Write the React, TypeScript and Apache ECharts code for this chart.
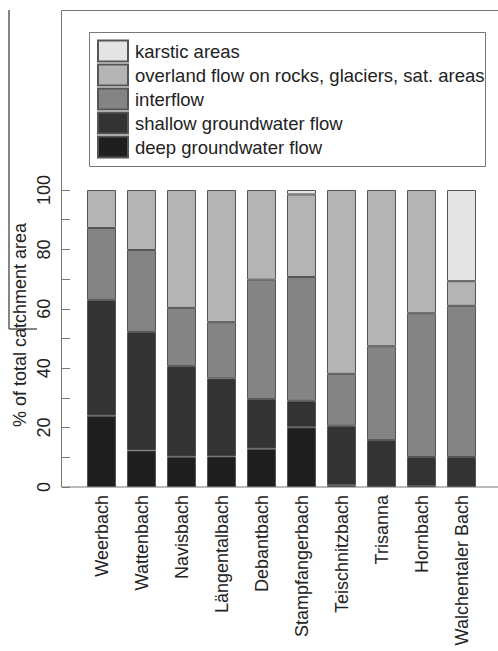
import React, { useEffect, useRef } from "react";
import * as echarts from "echarts";

const categories = [
  "Weerbach",
  "Wattenbach",
  "Navisbach",
  "Längentalbach",
  "Debantbach",
  "Stampfangerbach",
  "Teischnitzbach",
  "Trisanna",
  "Hornbach",
  "Walchentaler Bach",
];

const deepGroundwater = [24, 12.3, 10.2, 10.3, 12.9, 20.1, 0.6, null, 0.3, null];
const shallowGroundwater = [39, 39.9, 30.5, 26.3, 16.7, 8.9, 20, 15.8, 9.8, 10.1];
const interflow = [24.2, 27.6, 19.6, 18.9, 40.2, 41.7, 17.5, 31.6, 48.4, 50.9];
const overlandFlow = [12.8, 20.2, 39.7, 44.5, 30.2, 27.8, 61.9, 52.6, 41.5, 8.3];
const karsticAreas = [null, null, null, null, null, 1.5, null, null, null, 30.7];

const seriesNames = [
  "deep groundwater flow",
  "shallow groundwater flow",
  "interflow",
  "overland flow on rocks, glaciers, sat. areas",
  "karstic areas",
];
const legendOrder = [
  "karstic areas",
  "overland flow on rocks, glaciers, sat. areas",
  "interflow",
  "shallow groundwater flow",
  "deep groundwater flow",
];
const seriesColors = ["#1f1f1f", "#333333", "#848484", "#b4b4b4", "#e4e4e4"];

const FONT = "Liberation Sans, Arial, sans-serif";

export default function App() {
  const ref = useRef<HTMLDivElement>(null);
  useEffect(() => {
    document.body.style.margin = "0";
    const chart = echarts.init(ref.current!, null, { renderer: "svg" });
    const values = [deepGroundwater, shallowGroundwater, interflow, overlandFlow, karsticAreas];
    const frameColor = "#777777";
    chart.setOption({
      animation: false,
      backgroundColor: "#ffffff",
      textStyle: { fontFamily: FONT },
      grid: { left: 81.5, right: 16.5, top: 190, bottom: 164 },
      legend: {
        data: legendOrder,
        orient: "vertical",
        left: 97,
        top: 39.5,
        padding: 0,
        itemWidth: 30,
        itemHeight: 21,
        itemGap: 1,
        icon: "rect",
        selectedMode: false,
        textStyle: {
          fontSize: 18.5,
          color: "#222222",
          fontFamily: FONT,
          padding: [0, 0, 0, 2],
        },
      },
      xAxis: {
        type: "category",
        data: categories,
        axisLine: { show: false },
        axisTick: { show: false },
        axisLabel: {
          rotate: 90,
          fontSize: 18,
          color: "#222222",
          margin: 8,
          interval: 0,
          fontFamily: FONT,
        },
      },
      yAxis: {
        type: "value",
        min: 0,
        max: 100,
        interval: 10,
        offset: 19.5,
        splitLine: { show: false },
        axisLine: { show: false },
        axisTick: { show: true, inside: true, length: 8, lineStyle: { color: frameColor } },
        axisLabel: {
          rotate: 90,
          fontSize: 18,
          color: "#222222",
          margin: 9,
          fontFamily: FONT,
          formatter: (v: number) => (v % 20 === 0 ? String(v) : ""),
        },
      },
      series: seriesNames.map((name, i) => ({
        name,
        type: "bar",
        stack: "total",
        barWidth: 29,
        data: values[i],
        itemStyle: { color: seriesColors[i], borderColor: "#555555", borderWidth: 1 },
      })),
      graphic: [
        { type: "line", shape: { x1: 61.5, y1: 10.5, x2: 498, y2: 10.5 }, style: { stroke: frameColor, lineWidth: 1 } },
        { type: "line", shape: { x1: 61.5, y1: 10.5, x2: 61.5, y2: 487 }, style: { stroke: frameColor, lineWidth: 1 } },
        { type: "line", shape: { x1: 61.5, y1: 487, x2: 498, y2: 487 }, style: { stroke: frameColor, lineWidth: 1 } },
        { type: "line", shape: { x1: 9, y1: 10, x2: 9, y2: 329 }, style: { stroke: "#333333", lineWidth: 1.2 } },
        { type: "line", shape: { x1: 9, y1: 329, x2: 37, y2: 329 }, style: { stroke: "#333333", lineWidth: 1.2 } },
        {
          type: "rect",
          shape: { x: 89.5, y: 32.5, width: 396, height: 134 },
          style: { fill: "none", stroke: frameColor, lineWidth: 1 },
          z: 0,
        },
        {
          type: "text",
          x: 20,
          y: 325,
          rotation: Math.PI / 2,
          style: {
            text: "% of total catchment area",
            fontSize: 18,
            fontFamily: FONT,
            fill: "#222222",
            align: "center",
            verticalAlign: "middle",
          },
        },
      ],
    });
    return () => chart.dispose();
  }, []);
  return <div ref={ref} style={{ width: 498, height: 651 }} />;
}
